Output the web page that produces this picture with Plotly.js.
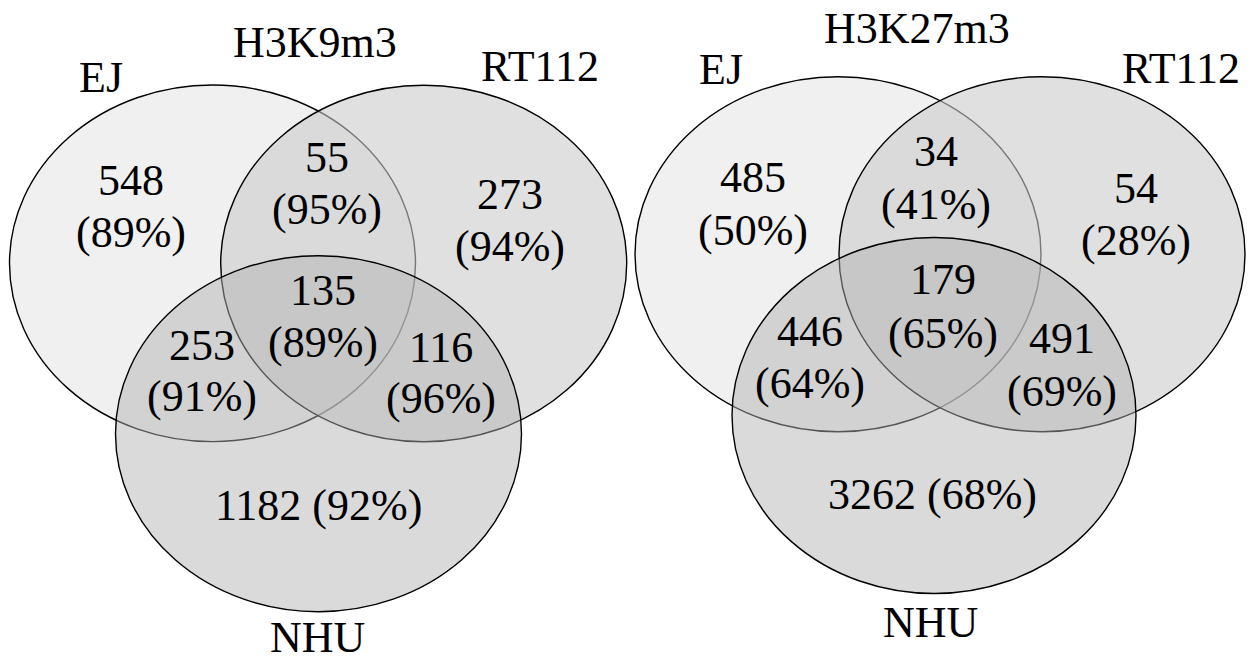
<!DOCTYPE html>
<html>
<head>
<meta charset="utf-8">
<script src="https://cdn.plot.ly/plotly-3.0.1.min.js"></script>
<style>
  html, body { margin: 0; padding: 0; background: #ffffff; }
  #chart { width: 1252px; height: 662px; }
</style>
</head>
<body>
<div id="chart"></div>
<script>
// ---- data ----
const setNames = ["EJ", "RT112", "NHU"];
const markNames = ["H3K9m3", "H3K27m3"];
const regionNames = ["EJ only", "EJ & RT112", "RT112 only", "EJ & RT112 & NHU", "EJ & NHU", "RT112 & NHU", "NHU only"];
const k9Counts = [548, 55, 273, 135, 253, 116, 1182];
const k9Pct = [89, 95, 94, 89, 91, 96, 92];
const k27Counts = [485, 34, 54, 179, 446, 491, 3262];
const k27Pct = [50, 41, 28, 65, 64, 69, 68];

// ---- layout geometry (pixel-like axis units) ----
const panels = [
  {
    mark: markNames[0], counts: k9Counts, pct: k9Pct,
    ellipses: [
      {cx: 212.5, cy: 263.3, rx: 203, ry: 178.3},
      {cx: 423.7, cy: 263.5, rx: 203, ry: 178.3},
      {cx: 318.5, cy: 433.7, rx: 203, ry: 178}
    ],
    title: {x: 315, y: 42},
    setLabels: [{x: 101, y: 77}, {x: 540, y: 66}, {x: 317, y: 637}],
    regionPos: [
      {x: 131, y1: 180, y2: 232},
      {x: 327, y1: 157, y2: 209},
      {x: 510, y1: 194, y2: 246},
      {x: 323, y1: 290, y2: 342},
      {x: 201.5, y1: 345, y2: 396},
      {x: 441, y1: 347, y2: 398},
      {x: 318, y1: 505}
    ]
  },
  {
    mark: markNames[1], counts: k27Counts, pct: k27Pct,
    ellipses: [
      {cx: 838, cy: 254.2, rx: 203, ry: 177.5},
      {cx: 1042, cy: 254.2, rx: 203, ry: 177.5},
      {cx: 934, cy: 415.5, rx: 202, ry: 178}
    ],
    title: {x: 917, y: 28},
    setLabels: [{x: 721, y: 69}, {x: 1181, y: 68}, {x: 930, y: 622}],
    regionPos: [
      {x: 753, y1: 177, y2: 230},
      {x: 936, y1: 151, y2: 204},
      {x: 1136, y1: 188, y2: 240},
      {x: 943, y1: 279, y2: 333},
      {x: 810, y1: 331, y2: 383},
      {x: 1062, y1: 338, y2: 391},
      {x: 932, y1: 494}
    ]
  }
];

const fills = ["rgb(240,240,240)", "rgba(203,203,203,0.59)", "rgba(177,177,177,0.48)"];
const FONT = "Liberation Serif, Times New Roman, serif";
const FS = 44;

const shapes = [];
const annotations = [];
panels.forEach(p => {
  p.ellipses.forEach((e, i) => {
    shapes.push({
      type: "circle", xref: "x", yref: "y",
      x0: e.cx - e.rx, x1: e.cx + e.rx, y0: e.cy - e.ry, y1: e.cy + e.ry,
      fillcolor: fills[i], line: {color: "#000000", width: 1.4}, layer: "below"
    });
  });
  const addText = (txt, x, y) => annotations.push({
    text: txt, x: x, y: y, xref: "x", yref: "y", showarrow: false,
    xanchor: "center", yanchor: "middle", font: {family: FONT, size: FS, color: "#000000"}
  });
  addText(p.mark, p.title.x, p.title.y);
  setNames.forEach((n, i) => addText(n, p.setLabels[i].x, p.setLabels[i].y));
  regionNames.forEach((r, i) => {
    const pos = p.regionPos[i];
    if (pos.y2 === undefined) {
      addText(p.counts[i] + " (" + p.pct[i] + "%)", pos.x, pos.y1);
    } else {
      addText(String(p.counts[i]), pos.x, pos.y1);
      addText("(" + p.pct[i] + "%)", pos.x, pos.y2);
    }
  });
});

// invisible anchor trace so the axes exist
const trace = {x: [0, 1252], y: [0, 662], mode: "markers", marker: {opacity: 0}, hoverinfo: "skip", showlegend: false, type: "scatter"};

const layout = {
  width: 1252, height: 662,
  margin: {l: 0, r: 0, t: 0, b: 0, pad: 0},
  paper_bgcolor: "#ffffff", plot_bgcolor: "#ffffff",
  xaxis: {range: [0, 1252], visible: false, fixedrange: true, showgrid: false, zeroline: false},
  yaxis: {range: [662, 0], visible: false, fixedrange: true, showgrid: false, zeroline: false},
  shapes: shapes,
  annotations: annotations,
  showlegend: false
};

Plotly.newPlot("chart", [trace], layout, {staticPlot: true, displayModeBar: false});
</script>
</body>
</html>
